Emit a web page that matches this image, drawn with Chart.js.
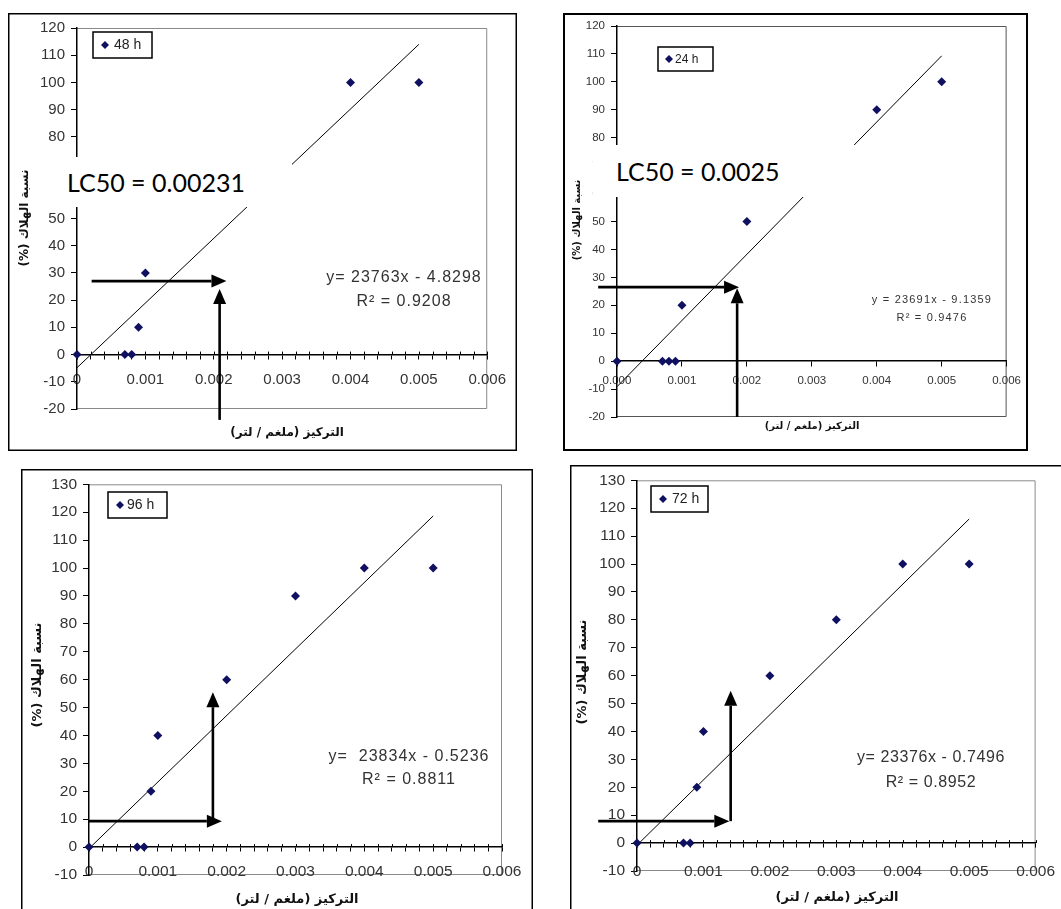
<!DOCTYPE html>
<html><head><meta charset="utf-8">
<script src="https://cdn.jsdelivr.net/npm/chart.js@4.4.1/dist/chart.umd.min.js"></script>
<style>
html,body{margin:0;padding:0;background:#fff;overflow:hidden;width:1061px;height:909px;}
canvas{position:absolute;}
.lc50{position:absolute;background:#fff;font-family:Lato,'Open Sans',sans-serif;font-size:25px;color:#000;white-space:nowrap;box-sizing:border-box;display:flex;align-items:center;}
</style></head><body>
<canvas id="c48"></canvas>
<canvas id="c24"></canvas>
<canvas id="c96"></canvas>
<canvas id="c72"></canvas>
<div class="lc50" id="lc48"></div>
<div class="lc50" id="lc24"></div>
<script>
// ---------- data ----------
const concentrations = [0, 0.0007, 0.0008, 0.0009, 0.001, 0.002, 0.003, 0.004, 0.005];
const mortality48h = [0, 0, 0, 10, 30, 60, 70, 100, 100];
const mortality24h = [0, 0, 0, 0, 20, 50, 70, 90, 100];
const mortality96h = [0, 0, 0, 20, 40, 60, 90, 100, 100];
const mortality72h = [0, 0, 0, 20, 40, 60, 80, 100, 100];
const seriesNames = ['48 h', '24 h', '96 h', '72 h'];
const trendSlopes = [23763, 23691, 23834, 23376];
const trendIntercepts = [-4.8298, -9.1359, -0.5236, -0.7496];
const equationTexts = ['y= 23763x - 4.8298', 'y = 23691x - 9.1359', 'y=  23834x - 0.5236', 'y= 23376x - 0.7496'];
const rSquaredTexts = ['R² = 0.9208', 'R² = 0.9476', 'R² = 0.8811', 'R² = 0.8952'];
const xTickLabels = ['0', '0.001', '0.002', '0.003', '0.004', '0.005', '0.006'];
const xTickLabels24h = ['0.000', '0.001', '0.002', '0.003', '0.004', '0.005', '0.006'];
const yRangeTop = [-20, 120];
const yRangeBottom = [-10, 130];
const yAxisTitle = 'نسبة الهلاك (%)';
const xAxisTitle = 'التركيز (ملغم / لتر)';
const lc50Texts = ['LC50 = 0.00231', 'LC50 = 0.0025'];

// ---------- layout / style ----------
const FONT = "'Liberation Sans', Arial, sans-serif";
const AFONT = "'DejaVu Sans', 'Liberation Sans', sans-serif";
const NAVY = '#101060';
const layouts = [
  {id:'c48', values:mortality48h, k:0, left:8, top:13, w:510, h:439, frame:[509,438], frameW:1.5,
   area:{l:69,t:12,r:489,b:396}, yr:yRangeTop, tickFont:15, xTickPad:12, xTickLen:4, minor:true, xLabels:xTickLabels,
   plotBorder:'#8a8a8a', legend:{x:85,y:19,w:59,h:26,font:14,dx:12,tx:21,lw:1.5},
   eq:{x:396,y1:265,y2:289,font:16,ls:1}, xTitle:{x:279,y:420,font:12}, yTitle:{x:17,y:205,font:12},
   arrows:[[0.000214,27,0.002186,27],[0.002086,-24,0.002086,24.1]]},
  {id:'c24', values:mortality24h, k:1, left:563, top:13, w:466, h:439, frame:[465,438], frameW:2,
   area:{l:54,t:13,r:446,b:404}, yr:yRangeTop, tickFont:11.5, xTickPad:8, xTickLen:5, minor:false, xLabels:xTickLabels24h,
   plotBorder:'#555', legend:{x:95,y:34,w:55,h:24,font:12,dx:11,tx:17,lw:1.5},
   eq:{x:369,y1:287,y2:305,font:11,ls:1.2}, xTitle:{x:249,y:413,font:10}, yTitle:{x:14,y:207,font:10},
   arrows:[[-0.00029,26.5,0.00188,26.5],[0.00185,-20,0.00185,26.1]]},
  {id:'c96', values:mortality96h, k:2, left:21, top:469, w:513, h:445, frame:[512,470], frameW:1.5,
   area:{l:68,t:15,r:481,b:406}, yr:yRangeBottom, tickFont:15.5, xTickPad:11, xTickLen:4, minor:true, xLabels:xTickLabels,
   plotBorder:'#8a8a8a', legend:{x:87,y:23,w:59,h:26,font:14,dx:12,tx:19,lw:1.5},
   eq:{x:388,y1:288,y2:311,font:16,ls:1}, xTitle:{x:276,y:431,font:13}, yTitle:{x:17,y:206,font:13},
   arrows:[[0,9.3,0.00193,9.3],[0.0018,9.3,0.0018,55.5]]},
  {id:'c72', values:mortality72h, k:3, left:570, top:465, w:500, h:450, frame:[520,470], frameW:1.5,
   area:{l:67,t:14,r:467,b:406}, yr:yRangeBottom, tickFont:15.5, xTickPad:15, xTickLen:4, minor:true, xLabels:xTickLabels,
   plotBorder:'#8a8a8a', legend:{x:81,y:21,w:57,h:26,font:14,dx:12,tx:21,lw:1.5},
   eq:{x:361,y1:293,y2:318,font:16,ls:0.6}, xTitle:{x:267,y:433,font:13}, yTitle:{x:13,y:207,font:13},
   arrows:[[-0.000584,7.86,0.00139,7.86],[0.00141,7.86,0.00141,54.6]]}
];
const lc50Boxes = [
  {id:'lc48', left:43, top:157, w:249, h:50, pad:24},
  {id:'lc24', left:593, top:145, w:265, h:52, pad:23}
];

function drawArrow(ctx, x1, y1, x2, y2, lw, hl, hw) {
  const a = Math.atan2(y2 - y1, x2 - x1);
  const bx = x2 - hl * Math.cos(a), by = y2 - hl * Math.sin(a);
  ctx.lineWidth = lw;
  ctx.beginPath(); ctx.moveTo(x1, y1); ctx.lineTo(bx, by); ctx.stroke();
  ctx.beginPath(); ctx.moveTo(x2, y2);
  ctx.lineTo(bx + hw / 2 * Math.sin(a), by - hw / 2 * Math.cos(a));
  ctx.lineTo(bx - hw / 2 * Math.sin(a), by + hw / 2 * Math.cos(a));
  ctx.closePath(); ctx.fill();
}

const overlayPlugin = {
  id: 'overlay',
  beforeDraw(chart, args, o) {
    const ctx = chart.ctx, a = chart.chartArea;
    ctx.save();
    ctx.fillStyle = '#fff'; ctx.fillRect(0, 0, chart.width, chart.height);
    ctx.strokeStyle = '#000'; ctx.lineWidth = o.frameW;
    ctx.strokeRect(o.frameW / 2, o.frameW / 2, o.frame[0] - o.frameW, o.frame[1] - o.frameW);
    ctx.strokeStyle = o.plotBorder; ctx.lineWidth = 1;
    ctx.beginPath();
    ctx.moveTo(a.left, a.top + 0.5); ctx.lineTo(a.right - 0.5, a.top + 0.5);
    ctx.lineTo(a.right - 0.5, a.bottom - 0.5); ctx.lineTo(a.left, a.bottom - 0.5);
    ctx.stroke();
    ctx.restore();
  },
  beforeDatasetsDraw(chart, args, o) {
    if (!o.crossTicks) return;
    const ctx = chart.ctx, sx = chart.scales.x, sy = chart.scales.y;
    const y0 = sy.getPixelForValue(0);
    ctx.save(); ctx.strokeStyle = '#000'; ctx.lineWidth = 1;
    sx.ticks.forEach(t => {
      const px = Math.round(sx.getPixelForValue(t.value)) + 0.5;
      ctx.beginPath(); ctx.moveTo(px, y0 - 3); ctx.lineTo(px, y0); ctx.stroke();
    });
    ctx.restore();
  },
  afterDraw(chart, args, o) {
    const ctx = chart.ctx, sx = chart.scales.x, sy = chart.scales.y;
    ctx.save();
    // legend
    const L = o.legend;
    ctx.fillStyle = '#fff'; ctx.fillRect(L.x, L.y, L.w, L.h);
    ctx.strokeStyle = '#000'; ctx.lineWidth = L.lw; ctx.strokeRect(L.x, L.y, L.w, L.h);
    const cy = L.y + L.h / 2;
    ctx.fillStyle = NAVY; ctx.beginPath();
    ctx.moveTo(L.x + L.dx, cy - 4); ctx.lineTo(L.x + L.dx + 4, cy); ctx.lineTo(L.x + L.dx, cy + 4); ctx.lineTo(L.x + L.dx - 4, cy);
    ctx.closePath(); ctx.fill();
    ctx.fillStyle = '#222'; ctx.font = L.font + 'px ' + FONT; ctx.textAlign = 'left'; ctx.textBaseline = 'middle';
    ctx.fillText(o.name, L.x + L.tx, cy + 0.5);
    // equation
    ctx.fillStyle = '#333'; ctx.font = o.eq.font + 'px ' + FONT; ctx.textAlign = 'center';
    ctx.letterSpacing = o.eq.ls + 'px';
    ctx.fillText(o.eqText, o.eq.x, o.eq.y1);
    ctx.fillText(o.r2Text, o.eq.x, o.eq.y2);
    ctx.letterSpacing = '0px';
    // axis titles
    ctx.fillStyle = '#111'; ctx.direction = 'rtl';
    ctx.font = 'bold ' + o.xTitle.font + 'px ' + AFONT;
    ctx.fillText(xAxisTitle, o.xTitle.x, o.xTitle.y);
    ctx.save();
    ctx.translate(o.yTitle.x, o.yTitle.y); ctx.rotate(-Math.PI / 2);
    ctx.font = 'bold ' + o.yTitle.font + 'px ' + AFONT;
    ctx.fillText(yAxisTitle, 0, 0);
    ctx.restore();
    ctx.direction = 'ltr';
    // arrows
    ctx.strokeStyle = '#000'; ctx.fillStyle = '#000';
    o.arrows.forEach(ar => {
      drawArrow(ctx, sx.getPixelForValue(ar[0]), sy.getPixelForValue(ar[1]),
        sx.getPixelForValue(ar[2]), sy.getPixelForValue(ar[3]), 2.6, 15, 13);
    });
    ctx.restore();
  }
};

layouts.forEach(cfg => {
  const cv = document.getElementById(cfg.id);
  cv.width = cfg.w; cv.height = cfg.h;
  cv.style.left = cfg.left + 'px'; cv.style.top = cfg.top + 'px';
  cv.style.width = cfg.w + 'px'; cv.style.height = cfg.h + 'px';
  const k = cfg.k;
  const pts = concentrations.map((x, i) => ({x: x, y: cfg.values[i]}));
  const x0 = concentrations[0], x1 = concentrations[concentrations.length - 1];
  const trend = [{x: x0, y: trendIntercepts[k] + trendSlopes[k] * x0}, {x: x1, y: trendIntercepts[k] + trendSlopes[k] * x1}];
  const step = cfg.minor ? 0.0002 : 0.001;
  new Chart(cv, {
    type: 'scatter',
    data: {
      datasets: [
        {label: seriesNames[k], data: pts, pointStyle: 'rectRot', pointRadius: 4.5, pointHoverRadius: 4.5,
         backgroundColor: NAVY, borderColor: NAVY, borderWidth: 0, clip: false},
        {type: 'line', data: trend, showLine: true, borderColor: '#000', borderWidth: 1, pointRadius: 0, fill: false, clip: false}
      ]
    },
    options: {
      responsive: false, animation: false, devicePixelRatio: 1,
      layout: {padding: {left: 0, top: cfg.area.t, right: cfg.w - cfg.area.r, bottom: cfg.h - cfg.area.b}},
      plugins: {
        legend: {display: false}, tooltip: {enabled: false},
        overlay: {frame: cfg.frame, frameW: cfg.frameW, plotBorder: cfg.plotBorder, legend: cfg.legend, name: seriesNames[k],
          eq: cfg.eq, eqText: equationTexts[k], r2Text: rSquaredTexts[k], xTitle: cfg.xTitle, yTitle: cfg.yTitle,
          arrows: cfg.arrows, crossTicks: cfg.minor}
      },
      scales: {
        x: {
          type: 'linear', position: {y: 0}, min: 0, max: 0.006,
          grid: {display: true, drawOnChartArea: false, drawTicks: true, tickLength: cfg.xTickLen, color: '#000', lineWidth: 1},
          border: {display: true, color: '#000', width: 1.5},
          ticks: {stepSize: step, autoSkip: false, maxRotation: 0, padding: cfg.xTickPad, color: '#333',
            font: {family: FONT, size: cfg.tickFont},
            callback: function (v) {
              const n = Math.round(v / 0.0002);
              if (n % 5 !== 0) return '';
              return cfg.xLabels[n / 5];
            }}
        },
        y: {
          type: 'linear', position: 'left', min: cfg.yr[0], max: cfg.yr[1],
          afterFit: function (s) { s.width = cfg.area.l; },
          grid: {display: true, drawOnChartArea: false, drawTicks: true, tickLength: 6, color: '#000', lineWidth: 1},
          border: {display: true, color: '#000', width: 1.5},
          ticks: {stepSize: 10, padding: 6, color: '#333', font: {family: FONT, size: cfg.tickFont}}
        }
      }
    },
    plugins: [overlayPlugin]
  });
});

lc50Boxes.forEach((b, i) => {
  const d = document.getElementById(b.id);
  d.textContent = lc50Texts[i];
  d.style.left = b.left + 'px'; d.style.top = b.top + 'px';
  d.style.width = b.w + 'px'; d.style.height = b.h + 'px';
  d.style.paddingLeft = b.pad + 'px';
});
</script>
</body></html>
